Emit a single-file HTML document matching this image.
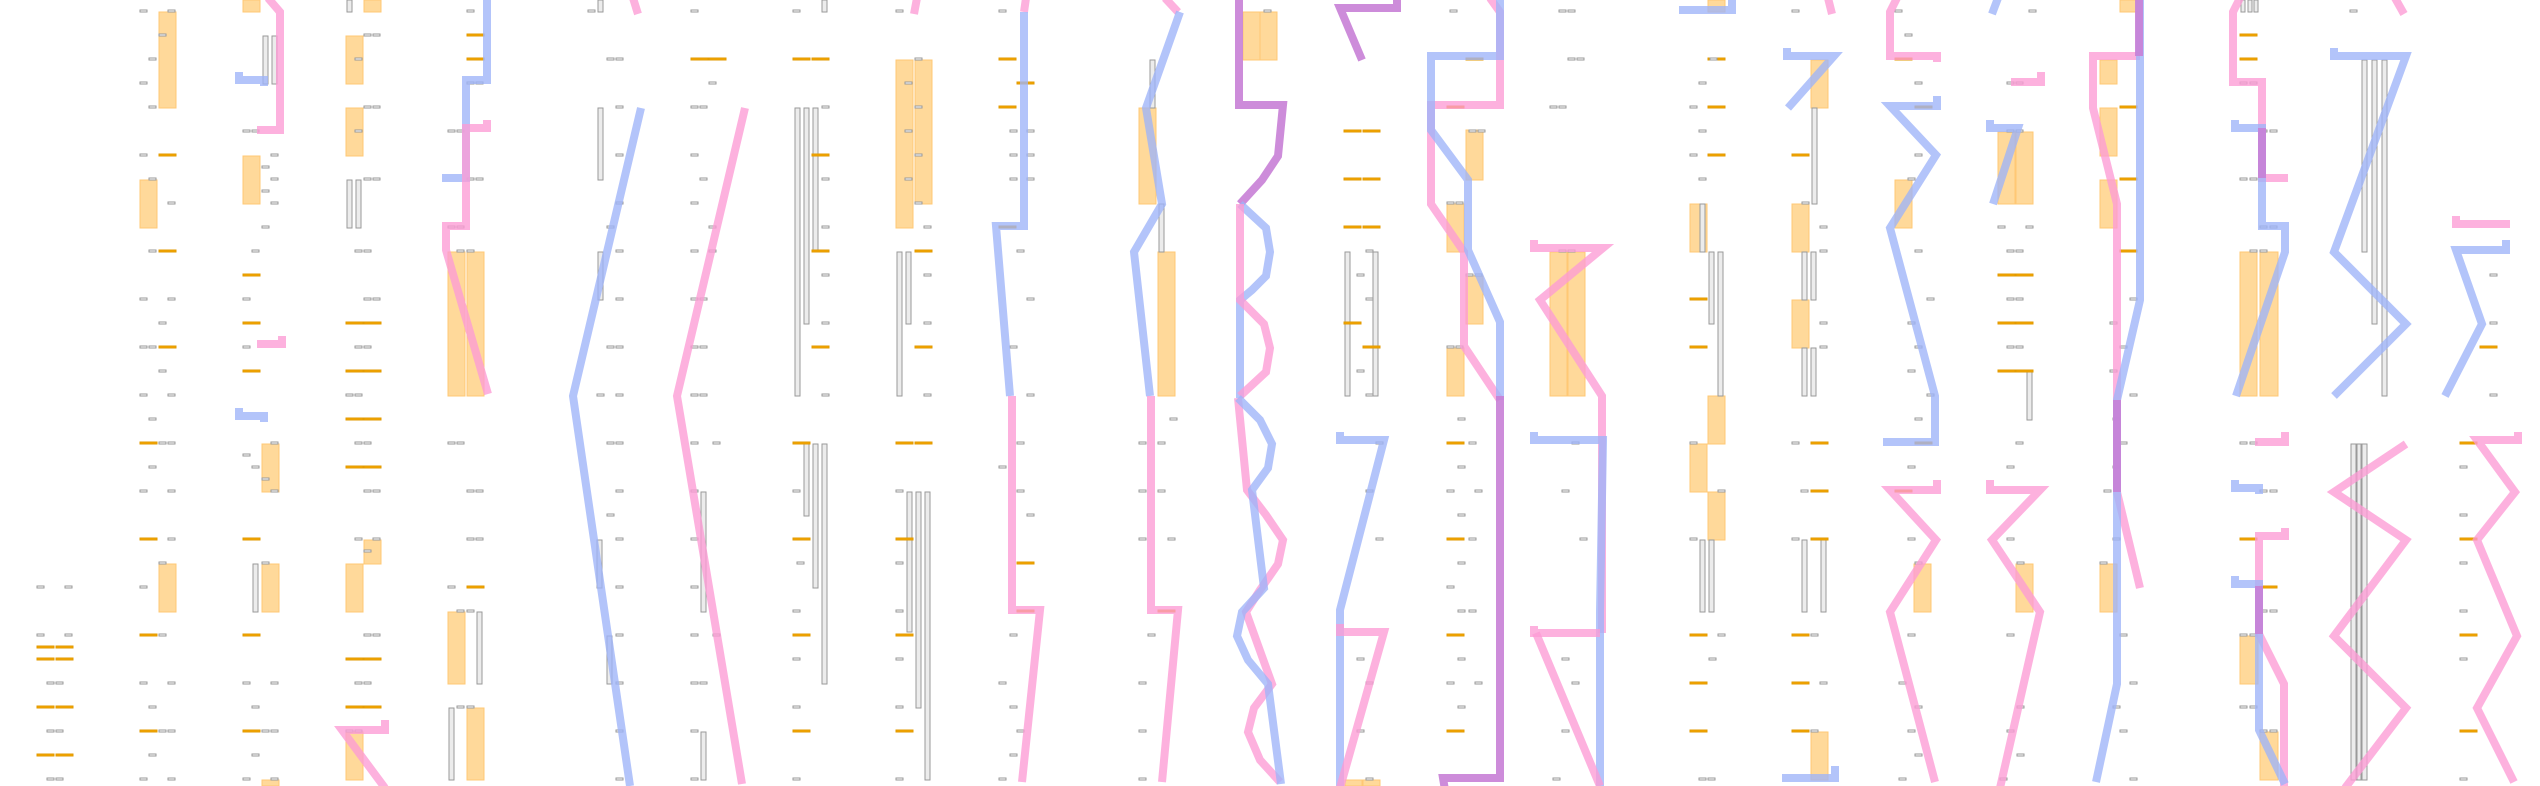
<!DOCTYPE html>
<html><head><meta charset="utf-8"><style>
html,body{margin:0;padding:0;background:#fff;}
svg{display:block}
.or{fill:#ffd99a;stroke:#ffc874;stroke-width:1}
.gc{fill:#ececec;stroke:#9a9a9a;stroke-width:1}
.pb{fill:none;stroke:#9db4f9;stroke-opacity:.78;stroke-width:8;stroke-linejoin:miter}
.pp{fill:none;stroke:#fd9bd5;stroke-opacity:.78;stroke-width:8;stroke-linejoin:miter}
.pm{fill:none;stroke:#c87fd6;stroke-opacity:.9;stroke-width:8;stroke-linejoin:miter}
</style></head><body>
<svg width="2540" height="786" viewBox="0 0 2540 786" xmlns="http://www.w3.org/2000/svg">
<defs>
<rect id="s" width="7" height="2" fill="#fff" stroke="#999" stroke-width="1"/>
<rect id="o" width="17" height="2" fill="#f5a700" stroke="#e29a00" stroke-width="1"/>
</defs>

<g class="or">
<rect x="159" y="12" width="17" height="96"/><rect x="140" y="180" width="17" height="48"/>
<rect x="159" y="564" width="17" height="48"/>
<rect x="243" y="0" width="17" height="12"/><rect x="243" y="156" width="17" height="48"/>
<rect x="262" y="444" width="17" height="48"/><rect x="262" y="564" width="17" height="48"/><rect x="262" y="780" width="17" height="6"/>
<rect x="364" y="0" width="17" height="12"/><rect x="346" y="36" width="17" height="48"/><rect x="346" y="108" width="17" height="48"/>
<rect x="364" y="540" width="17" height="24"/><rect x="346" y="564" width="17" height="48"/><rect x="346" y="732" width="17" height="48"/>
<rect x="448" y="252" width="17" height="144"/><rect x="467" y="252" width="17" height="144"/>
<rect x="448" y="612" width="17" height="72"/><rect x="467" y="708" width="17" height="72"/>
<rect x="896" y="60" width="17" height="168"/><rect x="915" y="60" width="17" height="144"/>
<rect x="1243" y="12" width="17" height="48"/><rect x="1260" y="12" width="17" height="48"/>
<rect x="1139" y="108" width="17" height="96"/><rect x="1158" y="252" width="17" height="144"/>
<rect x="1466" y="130" width="17" height="50"/><rect x="1447" y="204" width="17" height="48"/><rect x="1466" y="276" width="17" height="48"/><rect x="1447" y="348" width="17" height="48"/>
<rect x="1550" y="252" width="17" height="144"/><rect x="1568" y="252" width="17" height="144"/>
<rect x="1345" y="780" width="17" height="6"/><rect x="1363" y="780" width="17" height="6"/>
<rect x="1708" y="0" width="17" height="12"/><rect x="1690" y="204" width="17" height="48"/><rect x="1708" y="396" width="17" height="48"/>
<rect x="1690" y="444" width="17" height="48"/><rect x="1708" y="492" width="17" height="48"/>
<rect x="1811" y="60" width="17" height="48"/><rect x="1792" y="204" width="17" height="48"/><rect x="1792" y="300" width="17" height="48"/><rect x="1811" y="732" width="17" height="48"/>
<rect x="1895" y="180" width="17" height="48"/><rect x="1914" y="564" width="17" height="48"/>
<rect x="1998" y="132" width="17" height="72"/><rect x="2016" y="132" width="17" height="72"/><rect x="2016" y="564" width="17" height="48"/>
<rect x="2120" y="0" width="17" height="12"/><rect x="2100" y="60" width="17" height="24"/><rect x="2100" y="108" width="17" height="48"/><rect x="2100" y="180" width="17" height="48"/><rect x="2100" y="564" width="17" height="48"/>
<rect x="2240" y="252" width="17" height="144"/><rect x="2260" y="252" width="18" height="144"/>
<rect x="2240" y="636" width="18" height="48"/><rect x="2260" y="732" width="18" height="48"/>
</g>

<g class="gc">
<rect x="263" y="36" width="5" height="48"/><rect x="272" y="36" width="5" height="48"/>
<rect x="347" y="0" width="5" height="12"/><rect x="347" y="180" width="5" height="48"/><rect x="356" y="180" width="5" height="48"/>
<rect x="477" y="612" width="5" height="72"/><rect x="449" y="708" width="5" height="72"/>
<rect x="253" y="564" width="5" height="48"/>
<rect x="598" y="0" width="5" height="12"/><rect x="598" y="108" width="5" height="72"/><rect x="598" y="252" width="5" height="48"/>
<rect x="597" y="540" width="5" height="48"/><rect x="607" y="636" width="5" height="48"/>
<rect x="701" y="492" width="5" height="120"/><rect x="701" y="732" width="5" height="48"/>
<rect x="822" y="0" width="5" height="12"/>
<rect x="795" y="108" width="5" height="288"/><rect x="804" y="108" width="5" height="216"/><rect x="813" y="108" width="5" height="144"/>
<rect x="804" y="444" width="5" height="72"/><rect x="813" y="444" width="5" height="144"/><rect x="822" y="444" width="5" height="240"/>
<rect x="897" y="252" width="5" height="144"/><rect x="906" y="252" width="5" height="72"/>
<rect x="907" y="492" width="5" height="140"/><rect x="916" y="492" width="5" height="216"/><rect x="925" y="492" width="5" height="288"/>
<rect x="1150" y="60" width="5" height="48"/><rect x="1159" y="204" width="5" height="48"/>
<rect x="1345" y="252" width="5" height="144"/><rect x="1373" y="252" width="5" height="144"/>
<rect x="1700" y="204" width="5" height="48"/><rect x="1709" y="252" width="5" height="72"/><rect x="1718" y="252" width="5" height="144"/>
<rect x="1700" y="540" width="5" height="72"/><rect x="1709" y="540" width="5" height="72"/>
<rect x="1812" y="108" width="5" height="96"/><rect x="1802" y="252" width="5" height="48"/><rect x="1811" y="252" width="5" height="48"/>
<rect x="1802" y="348" width="5" height="48"/><rect x="1811" y="348" width="5" height="48"/>
<rect x="1802" y="540" width="5" height="72"/><rect x="1821" y="540" width="5" height="72"/>
<rect x="2027" y="372" width="5" height="48"/>
<rect x="2241" y="0" width="4" height="12"/><rect x="2248" y="0" width="4" height="12"/><rect x="2254" y="0" width="4" height="12"/>
<rect x="2362" y="60" width="5" height="192"/><rect x="2372" y="60" width="5" height="264"/><rect x="2382" y="60" width="5" height="336"/>
<rect x="2351" y="444" width="5" height="336"/><rect x="2357" y="444" width="4" height="336"/><rect x="2362" y="444" width="5" height="336"/>
</g>

<g>
<use href="#o" x="159" y="154"/><use href="#o" x="159" y="250"/><use href="#o" x="159" y="346"/>
<use href="#o" x="140" y="442"/><use href="#o" x="140" y="538"/><use href="#o" x="140" y="634"/><use href="#o" x="140" y="730"/>
<use href="#o" x="37" y="646"/><use href="#o" x="56" y="646"/><use href="#o" x="37" y="658"/><use href="#o" x="56" y="658"/>
<use href="#o" x="37" y="706"/><use href="#o" x="56" y="706"/><use href="#o" x="37" y="754"/><use href="#o" x="56" y="754"/>
<use href="#o" x="243" y="274"/><use href="#o" x="243" y="322"/><use href="#o" x="243" y="370"/>
<use href="#o" x="243" y="538"/><use href="#o" x="243" y="634"/><use href="#o" x="243" y="730"/>
<use href="#o" x="346" y="322"/><use href="#o" x="364" y="322"/><use href="#o" x="346" y="370"/><use href="#o" x="364" y="370"/>
<use href="#o" x="346" y="418"/><use href="#o" x="364" y="418"/><use href="#o" x="346" y="466"/><use href="#o" x="364" y="466"/>
<use href="#o" x="346" y="658"/><use href="#o" x="364" y="658"/><use href="#o" x="346" y="706"/><use href="#o" x="364" y="706"/>
<use href="#o" x="467" y="34"/><use href="#o" x="467" y="58"/><use href="#o" x="467" y="586"/>
<use href="#o" x="691" y="58"/><use href="#o" x="709" y="58"/>
<use href="#o" x="793" y="58"/><use href="#o" x="812" y="58"/><use href="#o" x="812" y="154"/><use href="#o" x="812" y="250"/><use href="#o" x="812" y="346"/>
<use href="#o" x="793" y="442"/><use href="#o" x="793" y="538"/><use href="#o" x="793" y="634"/><use href="#o" x="793" y="730"/>
<use href="#o" x="915" y="250"/><use href="#o" x="915" y="346"/>
<use href="#o" x="896" y="442"/><use href="#o" x="915" y="442"/><use href="#o" x="896" y="538"/><use href="#o" x="896" y="634"/><use href="#o" x="896" y="730"/>
<use href="#o" x="999" y="58"/><use href="#o" x="1017" y="82"/><use href="#o" x="999" y="106"/><use href="#o" x="999" y="226"/>
<use href="#o" x="1017" y="562"/><use href="#o" x="1017" y="610"/>
<use href="#o" x="1158" y="610"/>
<use href="#o" x="1344" y="130"/><use href="#o" x="1363" y="130"/><use href="#o" x="1344" y="178"/><use href="#o" x="1363" y="178"/><use href="#o" x="1344" y="226"/><use href="#o" x="1363" y="226"/>
<use href="#o" x="1344" y="322"/><use href="#o" x="1363" y="346"/>
<use href="#o" x="1466" y="58"/><use href="#o" x="1447" y="106"/>
<use href="#o" x="1447" y="442"/><use href="#o" x="1447" y="538"/><use href="#o" x="1447" y="634"/><use href="#o" x="1447" y="730"/>
<use href="#o" x="1708" y="58"/><use href="#o" x="1708" y="106"/><use href="#o" x="1708" y="154"/><use href="#o" x="1690" y="298"/><use href="#o" x="1690" y="346"/>
<use href="#o" x="1690" y="634"/><use href="#o" x="1690" y="682"/><use href="#o" x="1690" y="730"/>
<use href="#o" x="1792" y="154"/><use href="#o" x="1811" y="442"/><use href="#o" x="1811" y="490"/><use href="#o" x="1811" y="538"/>
<use href="#o" x="1792" y="634"/><use href="#o" x="1792" y="682"/><use href="#o" x="1792" y="730"/>
<use href="#o" x="1895" y="58"/><use href="#o" x="1915" y="106"/><use href="#o" x="1915" y="442"/><use href="#o" x="1895" y="490"/>
<use href="#o" x="1998" y="274"/><use href="#o" x="2016" y="274"/><use href="#o" x="1998" y="322"/><use href="#o" x="2016" y="322"/><use href="#o" x="1998" y="370"/><use href="#o" x="2016" y="370"/>
<use href="#o" x="2120" y="106"/><use href="#o" x="2120" y="178"/><use href="#o" x="2120" y="250"/>
<use href="#o" x="2240" y="34"/><use href="#o" x="2240" y="58"/><use href="#o" x="2240" y="538"/><use href="#o" x="2260" y="586"/>
<use href="#o" x="2480" y="346"/>
<use href="#o" x="2460" y="442"/><use href="#o" x="2460" y="538"/><use href="#o" x="2460" y="634"/><use href="#o" x="2460" y="730"/>
</g>

<g>
<use href="#s" x="140" y="10"/><use href="#s" x="168" y="10"/><use href="#s" x="159" y="34"/><use href="#s" x="149" y="58"/><use href="#s" x="140" y="82"/><use href="#s" x="149" y="106"/><use href="#s" x="140" y="154"/><use href="#s" x="149" y="178"/><use href="#s" x="168" y="202"/><use href="#s" x="149" y="250"/><use href="#s" x="140" y="298"/><use href="#s" x="168" y="298"/><use href="#s" x="159" y="322"/><use href="#s" x="140" y="346"/><use href="#s" x="149" y="346"/><use href="#s" x="159" y="370"/><use href="#s" x="140" y="394"/><use href="#s" x="168" y="394"/>
<use href="#s" x="149" y="418"/><use href="#s" x="159" y="442"/><use href="#s" x="168" y="442"/><use href="#s" x="149" y="466"/><use href="#s" x="140" y="490"/><use href="#s" x="168" y="490"/><use href="#s" x="168" y="538"/><use href="#s" x="159" y="562"/><use href="#s" x="140" y="586"/><use href="#s" x="159" y="634"/><use href="#s" x="140" y="682"/><use href="#s" x="168" y="682"/><use href="#s" x="149" y="706"/><use href="#s" x="159" y="730"/><use href="#s" x="168" y="730"/><use href="#s" x="149" y="754"/><use href="#s" x="140" y="778"/><use href="#s" x="168" y="778"/>
<use href="#s" x="37" y="586"/><use href="#s" x="65" y="586"/><use href="#s" x="37" y="634"/><use href="#s" x="65" y="634"/><use href="#s" x="47" y="682"/><use href="#s" x="56" y="682"/><use href="#s" x="47" y="730"/><use href="#s" x="56" y="730"/><use href="#s" x="47" y="778"/><use href="#s" x="56" y="778"/>
<use href="#s" x="243" y="130"/><use href="#s" x="252" y="130"/><use href="#s" x="271" y="154"/><use href="#s" x="262" y="166"/><use href="#s" x="271" y="178"/><use href="#s" x="262" y="190"/><use href="#s" x="271" y="202"/><use href="#s" x="262" y="226"/><use href="#s" x="252" y="250"/><use href="#s" x="243" y="298"/><use href="#s" x="243" y="346"/>
<use href="#s" x="271" y="442"/><use href="#s" x="243" y="454"/><use href="#s" x="252" y="466"/><use href="#s" x="262" y="478"/><use href="#s" x="271" y="490"/><use href="#s" x="262" y="562"/><use href="#s" x="243" y="682"/><use href="#s" x="271" y="682"/><use href="#s" x="252" y="706"/><use href="#s" x="262" y="730"/><use href="#s" x="271" y="730"/><use href="#s" x="252" y="754"/><use href="#s" x="243" y="778"/><use href="#s" x="271" y="778"/>
<use href="#s" x="364" y="34"/><use href="#s" x="373" y="34"/><use href="#s" x="355" y="58"/><use href="#s" x="364" y="106"/><use href="#s" x="373" y="106"/><use href="#s" x="355" y="130"/><use href="#s" x="364" y="178"/><use href="#s" x="373" y="178"/><use href="#s" x="355" y="250"/><use href="#s" x="364" y="250"/><use href="#s" x="364" y="298"/><use href="#s" x="373" y="298"/><use href="#s" x="355" y="346"/><use href="#s" x="364" y="346"/><use href="#s" x="346" y="394"/><use href="#s" x="355" y="394"/>
<use href="#s" x="355" y="442"/><use href="#s" x="364" y="442"/><use href="#s" x="364" y="490"/><use href="#s" x="373" y="490"/><use href="#s" x="355" y="538"/><use href="#s" x="373" y="538"/><use href="#s" x="364" y="550"/><use href="#s" x="364" y="634"/><use href="#s" x="373" y="634"/><use href="#s" x="355" y="682"/><use href="#s" x="364" y="682"/><use href="#s" x="346" y="730"/><use href="#s" x="355" y="730"/>
<use href="#s" x="467" y="10"/><use href="#s" x="467" y="82"/><use href="#s" x="476" y="82"/><use href="#s" x="448" y="130"/><use href="#s" x="457" y="130"/><use href="#s" x="467" y="178"/><use href="#s" x="476" y="178"/><use href="#s" x="448" y="226"/><use href="#s" x="457" y="226"/><use href="#s" x="457" y="250"/><use href="#s" x="467" y="250"/>
<use href="#s" x="448" y="442"/><use href="#s" x="457" y="442"/><use href="#s" x="467" y="490"/><use href="#s" x="476" y="490"/><use href="#s" x="467" y="538"/><use href="#s" x="476" y="538"/><use href="#s" x="448" y="586"/><use href="#s" x="457" y="610"/><use href="#s" x="467" y="610"/><use href="#s" x="457" y="706"/><use href="#s" x="467" y="706"/>
<use href="#s" x="588" y="10"/><use href="#s" x="607" y="58"/><use href="#s" x="616" y="58"/><use href="#s" x="616" y="106"/><use href="#s" x="616" y="154"/><use href="#s" x="616" y="202"/><use href="#s" x="607" y="226"/><use href="#s" x="616" y="250"/><use href="#s" x="616" y="298"/><use href="#s" x="607" y="346"/><use href="#s" x="616" y="346"/><use href="#s" x="597" y="394"/><use href="#s" x="616" y="394"/>
<use href="#s" x="607" y="442"/><use href="#s" x="616" y="442"/><use href="#s" x="616" y="490"/><use href="#s" x="607" y="514"/><use href="#s" x="616" y="538"/><use href="#s" x="616" y="586"/><use href="#s" x="616" y="634"/><use href="#s" x="616" y="682"/><use href="#s" x="616" y="730"/><use href="#s" x="616" y="778"/>
<use href="#s" x="691" y="10"/><use href="#s" x="709" y="82"/><use href="#s" x="691" y="106"/><use href="#s" x="700" y="106"/><use href="#s" x="691" y="154"/><use href="#s" x="700" y="178"/><use href="#s" x="691" y="202"/><use href="#s" x="709" y="226"/><use href="#s" x="691" y="250"/><use href="#s" x="709" y="250"/><use href="#s" x="691" y="298"/><use href="#s" x="700" y="298"/><use href="#s" x="691" y="346"/><use href="#s" x="700" y="346"/><use href="#s" x="691" y="394"/><use href="#s" x="700" y="394"/>
<use href="#s" x="691" y="442"/><use href="#s" x="713" y="442"/><use href="#s" x="691" y="490"/><use href="#s" x="691" y="538"/><use href="#s" x="691" y="586"/><use href="#s" x="691" y="634"/><use href="#s" x="713" y="634"/><use href="#s" x="691" y="682"/><use href="#s" x="700" y="682"/><use href="#s" x="691" y="730"/><use href="#s" x="691" y="778"/>
<use href="#s" x="793" y="10"/><use href="#s" x="822" y="106"/><use href="#s" x="822" y="178"/><use href="#s" x="822" y="226"/><use href="#s" x="822" y="274"/><use href="#s" x="822" y="322"/><use href="#s" x="822" y="394"/>
<use href="#s" x="793" y="490"/><use href="#s" x="797" y="562"/><use href="#s" x="793" y="610"/><use href="#s" x="793" y="658"/><use href="#s" x="793" y="706"/><use href="#s" x="793" y="778"/>
<use href="#s" x="896" y="10"/><use href="#s" x="915" y="58"/><use href="#s" x="905" y="82"/><use href="#s" x="915" y="106"/><use href="#s" x="905" y="130"/><use href="#s" x="915" y="154"/><use href="#s" x="905" y="178"/><use href="#s" x="915" y="202"/><use href="#s" x="924" y="226"/><use href="#s" x="924" y="274"/><use href="#s" x="924" y="322"/><use href="#s" x="924" y="394"/>
<use href="#s" x="896" y="490"/><use href="#s" x="896" y="562"/><use href="#s" x="896" y="610"/><use href="#s" x="896" y="658"/><use href="#s" x="896" y="706"/><use href="#s" x="896" y="778"/>
<use href="#s" x="999" y="10"/><use href="#s" x="1010" y="130"/><use href="#s" x="1027" y="130"/><use href="#s" x="1010" y="154"/><use href="#s" x="1027" y="154"/><use href="#s" x="1010" y="178"/><use href="#s" x="1027" y="178"/><use href="#s" x="1017" y="250"/><use href="#s" x="1027" y="298"/><use href="#s" x="1010" y="346"/><use href="#s" x="1027" y="394"/>
<use href="#s" x="1017" y="442"/><use href="#s" x="999" y="466"/><use href="#s" x="1017" y="490"/><use href="#s" x="1027" y="514"/><use href="#s" x="1010" y="634"/><use href="#s" x="999" y="682"/><use href="#s" x="1010" y="706"/><use href="#s" x="1017" y="730"/><use href="#s" x="1010" y="754"/><use href="#s" x="999" y="778"/>
<use href="#s" x="1170" y="418"/><use href="#s" x="1139" y="442"/><use href="#s" x="1158" y="442"/><use href="#s" x="1139" y="490"/><use href="#s" x="1158" y="490"/><use href="#s" x="1139" y="538"/><use href="#s" x="1168" y="538"/><use href="#s" x="1148" y="634"/><use href="#s" x="1139" y="682"/><use href="#s" x="1139" y="730"/><use href="#s" x="1139" y="778"/>
<use href="#s" x="1264" y="10"/>
<use href="#s" x="1366" y="250"/><use href="#s" x="1357" y="274"/><use href="#s" x="1366" y="298"/><use href="#s" x="1357" y="370"/><use href="#s" x="1366" y="394"/>
<use href="#s" x="1376" y="442"/><use href="#s" x="1366" y="490"/><use href="#s" x="1376" y="538"/><use href="#s" x="1357" y="658"/><use href="#s" x="1366" y="682"/><use href="#s" x="1357" y="730"/><use href="#s" x="1366" y="778"/>
<use href="#s" x="1450" y="10"/><use href="#s" x="1469" y="130"/><use href="#s" x="1478" y="130"/><use href="#s" x="1447" y="202"/><use href="#s" x="1456" y="202"/><use href="#s" x="1466" y="274"/><use href="#s" x="1475" y="274"/><use href="#s" x="1447" y="346"/><use href="#s" x="1456" y="346"/>
<use href="#s" x="1458" y="418"/><use href="#s" x="1469" y="442"/><use href="#s" x="1458" y="466"/><use href="#s" x="1447" y="490"/><use href="#s" x="1475" y="490"/><use href="#s" x="1458" y="514"/><use href="#s" x="1469" y="538"/><use href="#s" x="1458" y="562"/><use href="#s" x="1447" y="586"/><use href="#s" x="1458" y="610"/><use href="#s" x="1469" y="610"/><use href="#s" x="1458" y="658"/><use href="#s" x="1447" y="682"/><use href="#s" x="1475" y="682"/><use href="#s" x="1458" y="706"/>
<use href="#s" x="1559" y="10"/><use href="#s" x="1568" y="10"/><use href="#s" x="1568" y="58"/><use href="#s" x="1577" y="58"/><use href="#s" x="1550" y="106"/><use href="#s" x="1559" y="106"/><use href="#s" x="1559" y="250"/><use href="#s" x="1568" y="250"/>
<use href="#s" x="1572" y="442"/><use href="#s" x="1562" y="490"/><use href="#s" x="1580" y="538"/><use href="#s" x="1562" y="658"/><use href="#s" x="1572" y="682"/><use href="#s" x="1562" y="730"/><use href="#s" x="1553" y="778"/>
<use href="#s" x="1710" y="58"/><use href="#s" x="1699" y="82"/><use href="#s" x="1690" y="106"/><use href="#s" x="1699" y="130"/><use href="#s" x="1690" y="154"/><use href="#s" x="1699" y="178"/>
<use href="#s" x="1690" y="442"/><use href="#s" x="1718" y="490"/><use href="#s" x="1690" y="538"/><use href="#s" x="1718" y="634"/><use href="#s" x="1709" y="658"/><use href="#s" x="1699" y="778"/><use href="#s" x="1708" y="778"/>
<use href="#s" x="1792" y="10"/><use href="#s" x="1802" y="202"/><use href="#s" x="1820" y="226"/><use href="#s" x="1820" y="250"/><use href="#s" x="1820" y="322"/><use href="#s" x="1820" y="346"/>
<use href="#s" x="1792" y="442"/><use href="#s" x="1801" y="490"/><use href="#s" x="1792" y="538"/><use href="#s" x="1811" y="634"/><use href="#s" x="1820" y="682"/><use href="#s" x="1811" y="730"/>
<use href="#s" x="1895" y="10"/><use href="#s" x="1905" y="34"/><use href="#s" x="1915" y="82"/><use href="#s" x="1915" y="154"/><use href="#s" x="1908" y="178"/><use href="#s" x="1915" y="250"/><use href="#s" x="1927" y="298"/><use href="#s" x="1908" y="322"/><use href="#s" x="1915" y="346"/><use href="#s" x="1908" y="370"/><use href="#s" x="1927" y="394"/>
<use href="#s" x="1915" y="418"/><use href="#s" x="1908" y="466"/><use href="#s" x="1908" y="538"/><use href="#s" x="1915" y="562"/><use href="#s" x="1908" y="634"/><use href="#s" x="1899" y="682"/><use href="#s" x="1915" y="706"/><use href="#s" x="1908" y="730"/><use href="#s" x="1915" y="754"/><use href="#s" x="1899" y="778"/>
<use href="#s" x="2029" y="10"/><use href="#s" x="2007" y="82"/><use href="#s" x="2016" y="82"/><use href="#s" x="2007" y="130"/><use href="#s" x="2016" y="130"/><use href="#s" x="1998" y="226"/><use href="#s" x="2026" y="226"/><use href="#s" x="2007" y="250"/><use href="#s" x="2016" y="250"/><use href="#s" x="2007" y="298"/><use href="#s" x="2016" y="298"/><use href="#s" x="2007" y="346"/><use href="#s" x="2016" y="346"/>
<use href="#s" x="2016" y="442"/><use href="#s" x="2007" y="466"/><use href="#s" x="2007" y="538"/><use href="#s" x="2017" y="562"/><use href="#s" x="2007" y="634"/><use href="#s" x="2017" y="706"/><use href="#s" x="2007" y="730"/><use href="#s" x="2017" y="754"/><use href="#s" x="2000" y="778"/>
<use href="#s" x="2130" y="298"/><use href="#s" x="2110" y="322"/><use href="#s" x="2120" y="346"/><use href="#s" x="2110" y="370"/><use href="#s" x="2130" y="394"/>
<use href="#s" x="2113" y="418"/><use href="#s" x="2120" y="442"/><use href="#s" x="2113" y="466"/><use href="#s" x="2104" y="490"/><use href="#s" x="2113" y="538"/><use href="#s" x="2100" y="562"/><use href="#s" x="2120" y="634"/><use href="#s" x="2130" y="682"/><use href="#s" x="2113" y="706"/><use href="#s" x="2120" y="730"/><use href="#s" x="2130" y="778"/>
<use href="#s" x="2240" y="82"/><use href="#s" x="2250" y="82"/><use href="#s" x="2260" y="130"/><use href="#s" x="2270" y="130"/><use href="#s" x="2240" y="178"/><use href="#s" x="2250" y="178"/><use href="#s" x="2260" y="226"/><use href="#s" x="2270" y="226"/><use href="#s" x="2250" y="250"/><use href="#s" x="2260" y="250"/>
<use href="#s" x="2240" y="442"/><use href="#s" x="2250" y="442"/><use href="#s" x="2260" y="490"/><use href="#s" x="2270" y="490"/><use href="#s" x="2260" y="610"/><use href="#s" x="2270" y="610"/><use href="#s" x="2240" y="634"/><use href="#s" x="2250" y="634"/><use href="#s" x="2240" y="706"/><use href="#s" x="2250" y="706"/><use href="#s" x="2260" y="730"/><use href="#s" x="2270" y="730"/>
<use href="#s" x="2350" y="10"/>
<use href="#s" x="2490" y="274"/><use href="#s" x="2490" y="322"/><use href="#s" x="2490" y="394"/>
<use href="#s" x="2460" y="466"/><use href="#s" x="2460" y="514"/><use href="#s" x="2460" y="562"/><use href="#s" x="2460" y="610"/><use href="#s" x="2460" y="658"/><use href="#s" x="2460" y="778"/>
</g>

<g>
<polyline class="pb" points="239,72 239,80 264,80 264,86"/>
<polyline class="pp" points="268,-2 280,12 280,130 261,130 261,134"/>
<polyline class="pp" points="282,336 282,344 261,344 261,348"/>
<polyline class="pb" points="239,408 239,416 264,416 264,422"/>
<polyline class="pp" points="385,720 385,730 342,730 385,788"/>
<polyline class="pb" points="487,-2 487,80 466,80 466,178 446,178 446,182"/>
<polyline class="pp" points="487,120 487,128 466,128 466,226 446,226 446,250 488,394"/>

<polyline class="pp" points="633,-2 638,14"/>
<polyline class="pb" points="641,108 573,396 630,786"/>
<polyline class="pp" points="745,108 677,396 742,784"/>
<polyline class="pp" points="917,-2 914,14"/>
<polyline class="pp" points="1026,-2 1024,12"/>
<polyline class="pb" points="1024,12 1024,226 996,226 1010,396"/>
<polyline class="pp" points="1012,396 1012,610 1040,610 1022,782"/>

<polyline class="pp" points="1165,-2 1178,12"/>
<polyline class="pb" points="1180,12 1146,108 1162,204 1134,252 1150,396"/>
<polyline class="pp" points="1151,396 1151,610 1178,610 1162,782"/>
<polyline class="pm" points="1239,-2 1239,105 1283,105 1278,156 1262,180 1240,204"/>
<polyline class="pb" points="1240,204 1266,228 1270,252 1266,276 1252,290 1240,300 1240,398"/>
<polyline class="pp" points="1240,204 1240,300 1264,324 1270,348 1266,372 1240,396"/>
<polyline class="pp" points="1238,398 1247,490 1266,515 1283,540 1278,564 1260,590 1246,612 1272,684 1254,708 1248,732 1260,760 1280,782"/>
<polyline class="pb" points="1238,398 1260,420 1272,444 1268,468 1252,490 1264,588 1242,612 1237,636 1248,660 1268,684 1281,784"/>
<polyline class="pm" points="1397,-2 1397,8 1340,8 1362,60"/>
<polyline class="pb" points="1340,432 1340,440 1384,440 1340,610 1340,788"/>
<polyline class="pp" points="1340,624 1340,632 1384,632 1340,788"/>
<polyline class="pp" points="1490,-2 1500,12 1500,105 1431,105 1431,204 1464,252 1464,346 1500,400"/>
<polyline class="pb" points="1500,-2 1500,56 1431,56 1431,130 1468,180 1468,250 1500,322 1500,400"/>
<polyline class="pm" points="1500,396 1500,778 1443,778 1445,790"/>
<polyline class="pp" points="1534,240 1534,248 1603,248 1540,300 1602,396 1602,633"/>
<polyline class="pb" points="1534,432 1534,440 1603,440 1600,612 1600,788"/>
<polyline class="pp" points="1534,626 1534,633 1600,633"/>
<polyline class="pp" points="1536,633 1600,786"/>

<polyline class="pb" points="1732,-2 1732,10 1683,10 1683,14"/>
<polyline class="pb" points="1787,48 1787,56 1834,56 1788,108"/>
<polyline class="pp" points="1828,-2 1832,14"/>
<polyline class="pb" points="1835,766 1835,778 1786,778 1786,782"/>
<polyline class="pp" points="1897,-2 1890,12 1890,56 1937,56 1937,62"/>
<polyline class="pb" points="1937,96 1937,106 1890,106 1936,155 1890,228 1935,396 1935,442 1887,442 1887,446"/>
<polyline class="pp" points="1937,480 1937,490 1890,490 1936,540 1890,612 1935,782"/>
<polyline class="pb" points="1998,-2 1992,14"/>
<polyline class="pp" points="2041,72 2041,82 2015,82 2015,86"/>
<polyline class="pb" points="1990,120 1990,128 2018,128 1993,204"/>
<polyline class="pp" points="1990,480 1990,490 2040,490 1992,540 2040,612 2000,788"/>
<polyline class="pp" points="2140,56 2093,56 2093,108 2117,204 2117,400 2117,492 2140,588"/>
<polyline class="pb" points="2140,-2 2140,300 2117,400 2117,684 2096,782"/>
<polyline class="pm" points="2139,-2 2139,56"/>
<polyline class="pm" points="2117,400 2117,492"/>

<polyline class="pp" points="2240,-2 2233,12 2233,82 2262,82 2262,178 2284,178 2284,182"/>
<polyline class="pb" points="2235,120 2235,128 2262,128 2262,226 2285,226 2285,252 2236,396"/>
<polyline class="pm" points="2262,128 2262,178"/>
<polyline class="pp" points="2285,432 2285,442 2259,442 2259,446"/>
<polyline class="pb" points="2235,480 2235,488 2259,488 2259,494"/>
<polyline class="pp" points="2285,528 2285,536 2259,536 2259,634 2284,684 2284,788"/>
<polyline class="pb" points="2235,576 2235,584 2259,584 2259,730 2285,784"/>
<polyline class="pm" points="2259,586 2259,634"/>
<polyline class="pb" points="2334,48 2334,56 2406,56 2334,252 2406,324 2334,396"/>
<polyline class="pp" points="2395,-2 2404,14"/>
<polyline class="pp" points="2406,444 2334,492 2406,540 2334,636 2406,708 2345,788"/>
<polyline class="pp" points="2456,216 2456,224 2506,224 2506,228"/>
<polyline class="pb" points="2506,240 2506,250 2456,250 2482,324 2445,396"/>
<polyline class="pp" points="2518,432 2518,440 2477,440 2515,492 2477,540 2517,636 2477,708 2514,782"/>
</g>
</svg>
</body></html>
